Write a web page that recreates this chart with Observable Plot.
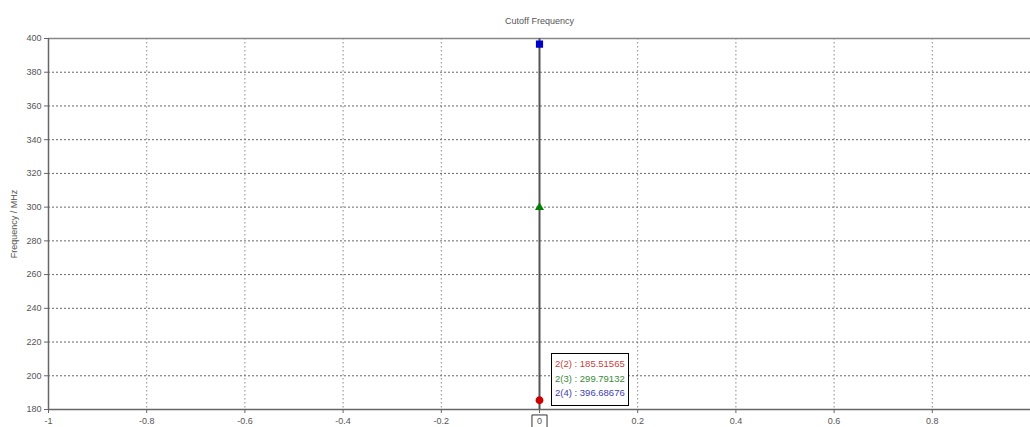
<!DOCTYPE html>
<html><head><meta charset="utf-8">
<script src="https://cdn.jsdelivr.net/npm/d3@7"></script>
<script src="https://cdn.jsdelivr.net/npm/@observablehq/plot@0.6"></script>
<style>
body{margin:0;background:#fff;font-family:"Liberation Sans",Arial,sans-serif;}
#wrap{position:relative;width:1030px;height:427px;overflow:hidden;}
#legend{position:absolute;left:551px;top:353px;width:73px;height:48px;border:1.5px solid #000;background:#fff;font-size:9.5px;line-height:14.5px;padding:3px 0 0 3px;box-sizing:content-box;}
</style></head>
<body><div id="wrap"></div>
<script>
const modes = ["2(2)", "2(3)", "2(4)"];
const freqs = [185.51565, 299.79132, 396.68676];
const colors = ["#cc0000", "#008000", "#0000cc"];
const legendColors = ["#c84040", "#3a8a3a", "#4040b0"];
const symbols = ["circle", "triangle", "square"];
const xTicks = [-1, -0.8, -0.6, -0.4, -0.2, 0, 0.2, 0.4, 0.6, 0.8];
const yTicks = [180, 200, 220, 240, 260, 280, 300, 320, 340, 360, 380, 400];
const title = "Cutoff Frequency";
const yLabel = "Frequency / MHz";

const pts = modes.map((m, i) => ({mode: m, f: freqs[i], color: colors[i], symbol: symbols[i]}));
const font = {fontSize: 9, fill: "#555"};

const chart = Plot.plot({
  width: 1030, height: 427,
  marginLeft: 48, marginRight: 0, marginTop: 38, marginBottom: 18,
  style: {fontFamily: "Liberation Sans, Arial, sans-serif", fontSize: "9px", background: "#fff"},
  x: {type: "linear", domain: [-1, 1], axis: null},
  y: {type: "linear", domain: [180, 400], axis: null},
  marks: [
    Plot.gridX(xTicks.filter(d => d !== -1), {stroke: "#888", strokeOpacity: 1, strokeDasharray: "1.5,2.5"}),
    Plot.gridY(yTicks.filter(d => d !== 180 && d !== 400), {stroke: "#666", strokeOpacity: 1, strokeDasharray: "2,2"}),
    Plot.ruleY([400], {stroke: "#888", strokeWidth: 1.5}),
    Plot.ruleY([180], {stroke: "#666", strokeWidth: 1.5}),
    Plot.ruleX([-1], {stroke: "#666", strokeWidth: 1.5}),
    Plot.axisX(xTicks, {tickSize: 4, tickPadding: 4, stroke: "#666", ...font, label: null, tickFormat: d => String(d)}),
    Plot.axisY(yTicks, {tickSize: 4, tickPadding: 3, stroke: "#666", ...font, label: null, tickFormat: d => String(d)}),
    Plot.text([yLabel], {frameAnchor: "left", textAnchor: "middle", dx: -34, rotate: -90, fontSize: 9, fill: "#555"}),
    Plot.text([title], {frameAnchor: "top", dy: -21, fontSize: 9, fill: "#555"}),
    Plot.ruleX([0], {stroke: "#555", strokeWidth: 2}),
    Plot.dot(pts.filter(d => d.symbol !== "triangle"), {x: () => 0, y: "f", fill: "color", stroke: "color", symbol: "symbol", r: 3.2}),
    Plot.dot(pts.filter(d => d.symbol === "triangle"), {x: () => 0, y: "f", fill: "color", stroke: "color", symbol: "symbol", r: 2.4}),
    Plot.dot([0], {x: d => d, y: () => 180, dy: 13, symbol: "square", r: 8.5, fill: "none", stroke: "#333", strokeWidth: 1})
  ]
});
document.getElementById("wrap").appendChild(chart);

const lg = document.createElement("div");
lg.id = "legend";
lg.innerHTML = modes.map((m, i) => `<div style="color:${legendColors[i]}">${m} : ${freqs[i].toFixed(5)}</div>`).join("");
document.getElementById("wrap").appendChild(lg);
</script></body></html>
